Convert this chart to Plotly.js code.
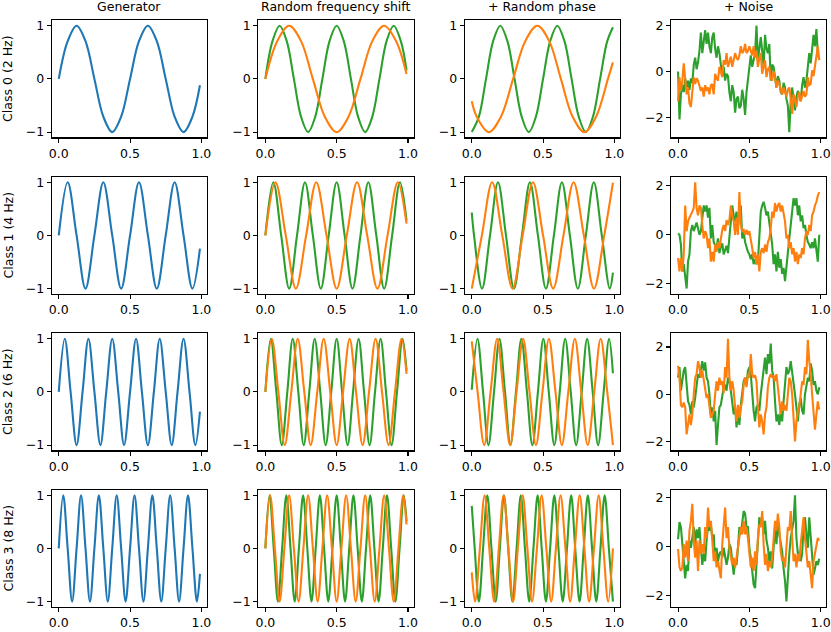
<!DOCTYPE html>
<html>
<head>
<meta charset="utf-8">
<script src="https://cdn.plot.ly/plotly-3.0.1.min.js"></script>
<style>
  html, body { margin: 0; padding: 0; background: #fff; }
  #grafica { width: 831px; height: 632px; }
</style>
</head>
<body>
<div id="grafica"></div>
<script>
const colTitles = ['Generator', 'Random frequency shift', '+ Random phase', '+ Noise'];
const rowLabels = ['Class 0 (2 Hz)', 'Class 1 (4 Hz)', 'Class 2 (6 Hz)', 'Class 3 (8 Hz)'];
const xTicks = [0, 0.5, 1];
const xTickText = ['0.0', '0.5', '1.0'];
const sineTicks = [-1, 0, 1];
const sineTickText = ['\u22121', '0', '1'];
const noiseTicks = [-2, 0, 2];
const noiseTickText = ['\u22122', '0', '2'];

// key points (zero crossings, peaks, troughs)
// class 0
const gen0X = [0, .0625, .125, .1875, .25, .3125, .375, .4375, .5, .5625, .625, .6875, .75, .8125, .875, .9375, .99];
const gen0Y = [0, .71, 1, .71, 0, -.71, -1, -.71, 0, .71, 1, .71, 0, -.71, -1, -.71, -.12];
const shiftG0X = [0, .05, .1, .15, .2, .25, .3, .35, .4, .45, .5, .55, .6, .65, .7, .75, .8, .85, .9, .95, .99];
const shiftG0Y = [0, .71, 1, .71, 0, -.71, -1, -.71, 0, .71, 1, .71, 0, -.71, -1, -.71, 0, .71, 1, .71, .16];
const shiftO0X = [0, .083, .167, .25, .333, .417, .5, .583, .667, .75, .833, .917, .99];
const shiftO0Y = [0, .71, 1, .71, 0, -.71, -1, -.71, 0, .71, 1, .71, .09];
const phaseG0X = [0, .05, .1, .15, .2, .25, .3, .35, .4, .45, .5, .55, .6, .65, .7, .75, .8, .85, .9, .95, .99];
const phaseG0Y = [-1, -.71, 0, .71, 1, .71, 0, -.71, -1, -.71, 0, .71, 1, .71, 0, -.71, -1, -.71, 0, .71, .97];
const phaseO0X = [0, .035, .12, .205, .29, .375, .46, .543, .625, .707, .79, .872, .955, .99];
const phaseO0Y = [-.42, -.71, -1, -.71, 0, .71, 1, .71, 0, -.71, -1, -.71, 0, .31];

// class 1
const gen1X = [0, .0625, .125, .1875, .25, .3125, .375, .4375, .5, .5625, .625, .6875, .75, .8125, .875, .9375, .99];
const gen1Y = [0, 1, 0, -1, 0, 1, 0, -1, 0, 1, 0, -1, 0, 1, 0, -1, -.25];
const shiftG1X = [0, .056, .111, .167, .222, .278, .333, .389, .444, .5, .556, .611, .667, .722, .778, .833, .889, .944, .99];
const shiftG1Y = [0, 1, 0, -1, 0, 1, 0, -1, 0, 1, 0, -1, 0, 1, 0, -1, 0, 1, .28];
const shiftO1X = [0, .071, .143, .214, .286, .357, .429, .5, .571, .643, .714, .786, .857, .929, .99];
const shiftO1Y = [0, 1, 0, -1, 0, 1, 0, -1, 0, 1, 0, -1, 0, 1, .22];
const phaseG1X = [0, .016, .072, .128, .184, .24, .296, .352, .408, .464, .52, .576, .632, .688, .744, .8, .856, .912, .968, .99];
const phaseG1Y = [.43, 0, -1, 0, 1, 0, -1, 0, 1, 0, -1, 0, 1, 0, -1, 0, 1, 0, -1, -.7];
const phaseO1X = [0, .071, .143, .214, .286, .357, .429, .5, .571, .643, .714, .786, .857, .929, .99];
const phaseO1Y = [-1, 0, 1, 0, -1, 0, 1, 0, -1, 0, 1, 0, -1, 0, .99];

// class 2
const gen2X = [0, .042, .083, .125, .167, .208, .25, .292, .333, .375, .417, .458, .5, .542, .583, .625, .667, .708, .75, .792, .833, .875, .917, .958, .99];
const gen2Y = [0, 1, 0, -1, 0, 1, 0, -1, 0, 1, 0, -1, 0, 1, 0, -1, 0, 1, 0, -1, 0, 1, 0, -1, -.37];
const shiftG2X = [0, .038, .077, .115, .154, .192, .231, .269, .308, .346, .385, .423, .462, .5, .538, .577, .615, .654, .692, .731, .769, .808, .846, .885, .923, .962, .99];
const shiftG2Y = [0, 1, 0, -1, 0, 1, 0, -1, 0, 1, 0, -1, 0, 1, 0, -1, 0, 1, 0, -1, 0, 1, 0, -1, 0, 1, .4];
const shiftO2X = [0, .045, .091, .136, .182, .227, .273, .318, .364, .409, .455, .5, .545, .591, .636, .682, .727, .773, .818, .864, .909, .955, .99];
const shiftO2Y = [0, 1, 0, -1, 0, 1, 0, -1, 0, 1, 0, -1, 0, 1, 0, -1, 0, 1, 0, -1, 0, 1, .34];
const phaseG2X = [0, .04, .079, .117, .156, .194, .233, .271, .31, .348, .387, .425, .464, .502, .54, .579, .617, .655, .694, .732, .771, .809, .848, .886, .925, .963, .99];
const phaseG2Y = [.04, 1, 0, -1, 0, 1, 0, -1, 0, 1, 0, -1, 0, 1, 0, -1, 0, 1, 0, -1, 0, 1, 0, -1, 0, 1, .35];
const phaseO2X = [0, .041, .087, .132, .178, .223, .269, .314, .36, .405, .45, .496, .541, .587, .632, .677, .723, .768, .813, .859, .904, .95, .99];
const phaseO2Y = [.95, 0, -1, 0, 1, 0, -1, 0, 1, 0, -1, 0, 1, 0, -1, 0, 1, 0, -1, 0, 1, 0, -1];

// class 3
const gen3X = [0, .0313, .0625, .0938, .125, .1563, .1875, .2188, .25, .2813, .3125, .3438, .375, .4063, .4375, .4688, .5, .5313, .5625, .5938, .625, .6563, .6875, .7188, .75, .7813, .8125, .8438, .875, .9063, .9375, .9688, .99];
const gen3Y = [0, 1, 0, -1, 0, 1, 0, -1, 0, 1, 0, -1, 0, 1, 0, -1, 0, 1, 0, -1, 0, 1, 0, -1, 0, 1, 0, -1, 0, 1, 0, -1, -.48];
const shiftG3X = [0, .0294, .0588, .0882, .1176, .1471, .1765, .2059, .2353, .2647, .2941, .3235, .3529, .3824, .4118, .4412, .4706, .5, .5294, .5588, .5882, .6176, .6471, .6765, .7059, .7353, .7647, .7941, .8235, .8529, .8824, .9118, .9412, .9706, .99];
const shiftG3Y = [0, 1, 0, -1, 0, 1, 0, -1, 0, 1, 0, -1, 0, 1, 0, -1, 0, 1, 0, -1, 0, 1, 0, -1, 0, 1, 0, -1, 0, 1, 0, -1, 0, 1, .51];
const shiftO3X = [0, .0333, .0667, .1, .1333, .1667, .2, .2333, .2667, .3, .3333, .3667, .4, .4333, .4667, .5, .5333, .5667, .6, .6333, .6667, .7, .7333, .7667, .8, .8333, .8667, .9, .9333, .9667, .99];
const shiftO3Y = [0, 1, 0, -1, 0, 1, 0, -1, 0, 1, 0, -1, 0, 1, 0, -1, 0, 1, 0, -1, 0, 1, 0, -1, 0, 1, 0, -1, 0, 1, .45];
const phaseG3X = [0, .0206, .05, .0794, .109, .1382, .168, .197, .226, .2555, .285, .3145, .344, .373, .403, .4325, .462, .4905, .52, .5495, .579, .608, .638, .6675, .697, .7255, .756, .785, .814, .8435, .873, .9025, .932, .9615, .99];
const phaseG3Y = [.8, 0, -1, 0, 1, 0, -1, 0, 1, 0, -1, 0, 1, 0, -1, 0, 1, 0, -1, 0, 1, 0, -1, 0, 1, 0, -1, 0, 1, 0, -1, 0, 1, 0, -1];
const phaseO3X = [0, .023, .057, .09, .123, .157, .19, .223, .257, .29, .323, .357, .39, .423, .457, .49, .523, .557, .59, .623, .657, .69, .723, .757, .79, .823, .857, .89, .923, .957, .99];
const phaseO3Y = [-.45, -1, 0, 1, 0, -1, 0, 1, 0, -1, 0, 1, 0, -1, 0, 1, 0, -1, 0, 1, 0, -1, 0, 1, 0, -1, 0, 1, 0, -1, 0];

// noisy samples
const noiseT = [0, .01, .02, .03, .04, .05, .06, .07, .08, .09,
  .1, .11, .12, .13, .14, .15, .16, .17, .18, .19,
  .2, .21, .22, .23, .24, .25, .26, .27, .28, .29,
  .3, .31, .32, .33, .34, .35, .36, .37, .38, .39,
  .4, .41, .42, .43, .44, .45, .46, .47, .48, .49,
  .5, .51, .52, .53, .54, .55, .56, .57, .58, .59,
  .6, .61, .62, .63, .64, .65, .66, .67, .68, .69,
  .7, .71, .72, .73, .74, .75, .76, .77, .78, .79,
  .8, .81, .82, .83, .84, .85, .86, .87, .88, .89,
  .9, .91, .92, .93, .94, .95, .96, .97, .98, .99];
const noiseG0 = [0, -2.1, -1.0, -0.6, -0.9, -0.3, -0.7, -0.4, -0.8, -0.3,
  -0.5, 0.3, 0.6, 0.1, 0.4, 0.9, 1.7, 0.8, 1.3, 1.8,
  1.2, 1.7, 1.1, 0.8, 1.5, 1.7, 1.0, 0.6, 1.1, 0.8,
  0.3, -0.2, 0.2, -0.4, -0.1, -0.2, -0.9, -1.3, -0.6, -0.9,
  -1.8, -1.2, -1.1, -1.6, -1.5, -0.8, -1.2, -1.9, -0.9, -0.3,
  0.2, 0.7, 0.2, 0.5, 0.8, 2.0, 0.5, 1.0, 1.5, 0.9,
  0.2, 1.6, 1.0, 0.8, 1.2, -0.4, 0.3, 0.2, -0.3, -0.7,
  -0.2, -0.4, -0.9, -1.0, -0.5, -0.7, -1.2, -1.5, -2.65, -1.3,
  -0.7, -1.2, -1.7, -1.1, -0.85, -1.0, -1.3, -0.6, -0.25, -0.7,
  -0.4, 0.2, 0.8, 0.35, 0.9, 1.6, 1.1, 1.85, 0.8, 0.5];
const noiseO0 = [-1.3, -0.25, -0.85, -0.4, 0.35, -0.4, -1.0, -0.7, -1.4, -1.55,
  -1.0, -0.25, -0.55, -0.3, -0.4, -0.6, -0.85, -0.7, -1.1, -0.6,
  -0.85, -0.7, -1.0, -0.6, -0.55, -1.0, -0.1, -0.3, -0.4, 0.2,
  -0.1, -0.25, 0.5, 0.3, 0.8, 0.2, 0.4, 0.65, 0.2, 0.5,
  0.8, 0.6, 0.5, 0.7, 1.1, 0.8, 0.9, 1.2, 0.8, 0.9,
  1.1, 0.9, 0.7, 1.1, 0.6, 0.9, 0.2, 0.6, 0.8, -0.1,
  0.3, 0.5, -0.25, 0.1, 0.2, -0.3, -0.4, 0.0, -0.25, -0.7,
  -0.4, -0.55, -0.8, -1.0, -0.7, -0.9, -1.1, -0.8, -0.7, -1.2,
  -1.85, -1.0, -1.3, -1.55, -1.1, -0.9, -1.3, -1.0, -0.85, -1.1,
  -1.0, -0.25, -0.6, -0.55, 0.05, -0.2, 0.2, 0.8, 1.1, 0.5];
const noiseG1 = [0.05, 0.0, -0.4, -1.5, -1.2, -1.8, -2.2, -1.1, -0.8, 0.15,
  0.4, 0.15, 0.3, 0.5, 0.27, 0.0, 0.15, 0.7, 1.2, 0.95,
  1.2, 0.7, 1.1, -0.15, 0.4, -0.3, -0.4, -0.55, -0.15, -0.75,
  -0.5, -0.35, -0.8, -0.6, -0.45, -0.75, -0.15, 0.4, 1.2, 0.8,
  0.55, 0.95, 0.4, 0.8, 1.2, -0.15, 0.15, -0.3, -0.55, -0.7,
  -0.8, -1.0, -0.8, -1.2, -1.0, -1.2, -1.1, -0.15, 0.95, 1.2,
  1.35, 1.1, 0.8, 0.95, 0.55, 0.15, -0.4, -1.2, -0.8, -1.5,
  -0.7, -1.35, -1.0, -1.6, -1.35, -1.9, -1.2, -0.55, -0.15, 0.4,
  0.95, 1.5, 1.2, 1.5, 0.8, 1.2, 0.55, 0.8, 0.27, 0.4,
  0.0, -0.3, -0.4, -0.55, -0.3, -0.55, -0.15, -0.55, -1.1, 0.0];
const noiseO1 = [-0.95, -1.5, -0.95, -1.5, -0.8, 1.2, 0.15, 0.55, 0.7, 0.8,
  0.95, 1.1, 2.15, 1.1, 0.8, 1.2, 1.1, 0.4, -0.15, 0.15,
  0.0, -0.55, -0.15, -1.1, -0.7, -1.1, -0.4, -0.7, -0.3, -0.55,
  -0.15, 0.2, 0.4, 0.15, 0.6, 0.4, 0.6, 1.2, 0.8, 0.55,
  0.0, 0.7, 0.0, 1.75, 0.4, 0.15, 0.2, 0.0, 0.2, 0.0,
  0.15, -0.15, -0.55, -0.95, -0.7, -1.2, -0.8, -1.5, -0.7, -0.55,
  -0.75, -0.4, -0.7, -0.3, -0.15, 0.27, 0.95, 0.7, 1.3, 0.95,
  1.2, 1.3, 0.95, 1.2, 0.8, 0.55, -0.15, 0.0, -0.55, -0.3,
  -0.8, -0.55, -1.1, -0.7, -1.2, -0.8, -0.95, -0.55, -0.8, -0.15,
  0.15, 0.0, 0.4, 0.15, 0.8, 0.95, 1.2, 1.35, 1.6, 1.75];
const noiseG2 = [0.7, 1.15, 0.15, 0.55, 1.0, 1.15, 0.3, -0.3, -0.45, -0.85,
  -0.3, -0.55, -0.15, 0.4, 0.85, 0.7, 1.15, 1.4, 1.0, 1.35,
  0.7, 0.55, 0.0, -0.85, -0.55, -1.15, -0.7, -2.15, -1.3, -0.55,
  -0.45, 0.0, 0.3, 0.4, 0.15, 0.7, 0.55, 0.15, -0.45, -0.85,
  -0.55, -1.4, -0.7, -1.3, -0.45, 0.0, 0.55, 0.7, 0.4, 1.0,
  1.15, 0.85, -0.15, -0.7, -1.15, -0.55, -0.45, -0.7, 0.0, 0.55,
  1.15, 1.55, 0.85, 1.7, 1.3, 2.15, 1.0, 0.7, -0.3, -1.15,
  -0.85, -1.3, -0.7, -1.15, -0.3, 0.55, 1.15, 0.85, 1.0, 1.4,
  1.0, 0.55, 0.0, -0.55, -1.15, -0.45, -0.15, -0.7, -0.85, 0.0,
  0.4, 0.7, 0.55, 1.3, 1.0, 0.4, 0.55, 0.15, 0.0, 0.3];
const noiseO2 = [1.2, 0.7, -0.45, -0.55, -0.35, -0.55, -1.7, -1.15, -0.85, -1.3,
  -0.85, 0.0, 0.7, 0.85, 1.4, 1.15, 0.7, 1.0, 0.55, 0.3,
  -0.15, 0.0, -0.55, -1.0, -0.85, -0.7, 0.0, 0.55, 0.15, 0.7,
  0.4, 0.55, 0.05, 1.15, 0.7, 2.35, 0.7, 0.15, 0.55, 0.15,
  -0.55, -1.15, -0.45, -1.0, -0.55, -0.3, 0.4, 0.7, 0.3, 0.85,
  0.7, 1.7, 0.85, 0.7, 0.8, 0.55, -0.55, -1.4, -0.85, -1.15,
  -1.7, -0.85, -0.55, 0.3, 0.7, 0.85, 0.7, 0.8, 0.55, 0.85,
  0.3, -0.45, -0.85, -0.3, -0.7, -0.45, -0.7, 0.0, 0.7, 0.55,
  0.0, -1.0, -2.0, -1.15, -0.7, -0.55, 0.0, 0.55, 0.4, 1.15,
  0.85, 2.3, 1.4, 0.85, 0.0, -0.85, -1.5, -0.85, -0.3, -0.65];
const noiseG3 = [0.3, 1.0, 0.8, 0.1, -0.45, -1.3, -0.75, -1.0, 0.25, -0.05,
  0.35, 0.8, 0.1, 0.7, 0.35, 0.8, -0.05, -0.75, -0.3, -0.6,
  0.25, 0.8, 0.65, 0.9, 0.35, 0.5, -0.6, -0.05, -0.6, -0.3,
  -0.2, -0.45, -0.05, -0.45, -0.75, -0.45, 0.1, -0.05, -0.75, -1.15,
  -0.6, -0.75, -0.05, 0.8, 0.5, 0.9, 1.45, 1.35, 0.8, 0.8,
  -0.05, -0.45, -1.15, -1.55, -1.7, -0.6, 0.25, 1.2, 0.8, 1.2,
  0.5, 1.05, 0.25, -0.05, -0.6, -0.2, -0.9, -0.2, 0.8, 0.1,
  1.05, 0.5, 0.1, -0.2, -0.9, -1.4, -2.25, -1.0, -0.3, 0.35,
  0.8, 1.05, 2.1, 0.35, -0.3, -0.2, -0.6, -0.3, 0.8, 1.2,
  0.5, -0.05, 1.2, 0.35, -0.45, -1.15, -0.9, -0.6, -0.75, -0.5];
const noiseO3 = [-0.1, -0.85, -1.0, -0.85, 0.1, -0.45, 0.25, -0.6, 0.65, 1.05,
  1.75, 0.25, -0.45, 0.25, -1.0, 0.25, -0.3, 0.1, -0.3, 0.8,
  0.35, 1.6, 0.8, 1.05, 0.25, -0.6, -0.2, -0.85, -0.6, -1.0,
  -1.3, 0.1, 0.9, 1.6, 0.35, 0.8, -0.05, -0.45, -0.75, -0.45,
  -0.85, -0.45, -0.05, 0.35, 0.8, 0.5, 1.05, 0.5, 0.8, 0.35,
  -0.3, -0.85, -0.45, -1.0, -0.2, -0.75, 0.35, 0.9, 0.8, 1.45,
  0.1, -0.75, -0.3, -1.0, -0.6, -0.85, -0.45, 0.35, 1.05, 0.65,
  1.35, 0.8, -0.2, -0.6, -0.45, -0.85, -0.05, 0.8, 0.65, 1.45,
  0.35, -0.6, -0.3, -0.85, -0.3, -0.6, 0.1, 0.8, 1.2, 0.35,
  -0.45, -0.85, -0.6, -1.15, -1.7, -0.6, -0.3, 0.1, 0.35, 0.25];

const AZUL = '#1f77b4';
const NARANJA = '#ff7f0e';
const VERDE = '#2ca02c';
const FUENTE = 'DejaVu Sans, sans-serif';
const TAM = 12.5;

// panel layout in pixels
const W = 831, H = 632;
const colLeft = [51.7, 258.3, 464.7, 671.0];
const colW = 155.3;
const rowTop = [20.4, 176.9, 333.4, 489.9];
const rowH = 117;
const noiseRange = [[-2.88, 2.23], [-2.42, 2.37], [-2.375, 2.575], [-2.47, 2.32]];

// panels[row][col] = list of curves
const panels = [
  [
    [{ x: gen0X, y: gen0Y, c: AZUL, s: 'spline' }],
    [{ x: shiftG0X, y: shiftG0Y, c: VERDE, s: 'spline' }, { x: shiftO0X, y: shiftO0Y, c: NARANJA, s: 'spline' }],
    [{ x: phaseG0X, y: phaseG0Y, c: VERDE, s: 'spline' }, { x: phaseO0X, y: phaseO0Y, c: NARANJA, s: 'spline' }],
    [{ x: noiseT, y: noiseG0, c: VERDE, s: 'linear' }, { x: noiseT, y: noiseO0, c: NARANJA, s: 'linear' }]
  ],
  [
    [{ x: gen1X, y: gen1Y, c: AZUL, s: 'spline' }],
    [{ x: shiftG1X, y: shiftG1Y, c: VERDE, s: 'spline' }, { x: shiftO1X, y: shiftO1Y, c: NARANJA, s: 'spline' }],
    [{ x: phaseG1X, y: phaseG1Y, c: VERDE, s: 'spline' }, { x: phaseO1X, y: phaseO1Y, c: NARANJA, s: 'spline' }],
    [{ x: noiseT, y: noiseG1, c: VERDE, s: 'linear' }, { x: noiseT, y: noiseO1, c: NARANJA, s: 'linear' }]
  ],
  [
    [{ x: gen2X, y: gen2Y, c: AZUL, s: 'spline' }],
    [{ x: shiftG2X, y: shiftG2Y, c: VERDE, s: 'spline' }, { x: shiftO2X, y: shiftO2Y, c: NARANJA, s: 'spline' }],
    [{ x: phaseG2X, y: phaseG2Y, c: VERDE, s: 'spline' }, { x: phaseO2X, y: phaseO2Y, c: NARANJA, s: 'spline' }],
    [{ x: noiseT, y: noiseG2, c: VERDE, s: 'linear' }, { x: noiseT, y: noiseO2, c: NARANJA, s: 'linear' }]
  ],
  [
    [{ x: gen3X, y: gen3Y, c: AZUL, s: 'spline' }],
    [{ x: shiftG3X, y: shiftG3Y, c: VERDE, s: 'spline' }, { x: shiftO3X, y: shiftO3Y, c: NARANJA, s: 'spline' }],
    [{ x: phaseG3X, y: phaseG3Y, c: VERDE, s: 'spline' }, { x: phaseO3X, y: phaseO3Y, c: NARANJA, s: 'spline' }],
    [{ x: noiseT, y: noiseG3, c: VERDE, s: 'linear' }, { x: noiseT, y: noiseO3, c: NARANJA, s: 'linear' }]
  ]
];

function ejeBase() {
  return {
    showline: true,
    mirror: true,
    linecolor: '#000',
    linewidth: 1.1,
    ticks: 'outside',
    ticklen: 4,
    tickwidth: 1.1,
    tickcolor: '#000',
    showgrid: false,
    zeroline: false,
    fixedrange: true,
    tickfont: { family: FUENTE, size: TAM, color: '#000' }
  };
}

const data = [];
const layout = {
  width: W,
  height: H,
  margin: { l: 0, r: 0, t: 0, b: 0 },
  paper_bgcolor: '#fff',
  plot_bgcolor: '#fff',
  showlegend: false,
  annotations: []
};

for (let r = 0; r < 4; r++) {
  for (let c = 0; c < 4; c++) {
    const n = r * 4 + c + 1;
    const sufijo = n === 1 ? '' : String(n);

    const xa = ejeBase();
    xa.domain = [colLeft[c] / W, (colLeft[c] + colW) / W];
    xa.range = [-0.0495, 1.0395];
    xa.tickvals = xTicks;
    xa.ticktext = xTickText;
    xa.anchor = 'y' + sufijo;

    const ya = ejeBase();
    ya.domain = [1 - (rowTop[r] + rowH) / H, 1 - rowTop[r] / H];
    ya.anchor = 'x' + sufijo;
    if (c === 3) {
      ya.range = noiseRange[r];
      ya.tickvals = noiseTicks;
      ya.ticktext = noiseTickText;
    } else {
      ya.range = [-1.1, 1.1];
      ya.tickvals = sineTicks;
      ya.ticktext = sineTickText;
    }

    layout['xaxis' + sufijo] = xa;
    layout['yaxis' + sufijo] = ya;

    panels[r][c].forEach(curva => {
      data.push({
        type: 'scatter',
        mode: 'lines',
        x: curva.x,
        y: curva.y,
        xaxis: 'x' + sufijo,
        yaxis: 'y' + sufijo,
        line: { color: curva.c, width: 2.1, shape: curva.s },
        hoverinfo: 'skip'
      });
    });
  }
}

colTitles.forEach((t, c) => {
  layout.annotations.push({
    text: t,
    xref: 'paper',
    yref: 'paper',
    x: (colLeft[c] + colW / 2) / W,
    y: 1 - 6 / H,
    xanchor: 'center',
    yanchor: 'middle',
    showarrow: false,
    font: { family: FUENTE, size: TAM, color: '#000' }
  });
});

rowLabels.forEach((t, r) => {
  layout.annotations.push({
    text: t,
    xref: 'paper',
    yref: 'paper',
    x: 8 / W,
    y: 1 - (rowTop[r] + rowH / 2) / H,
    xanchor: 'center',
    yanchor: 'middle',
    textangle: -90,
    showarrow: false,
    font: { family: FUENTE, size: TAM, color: '#000' }
  });
});

Plotly.newPlot('grafica', data, layout, { displayModeBar: false, staticPlot: true });
</script>
</body>
</html>
